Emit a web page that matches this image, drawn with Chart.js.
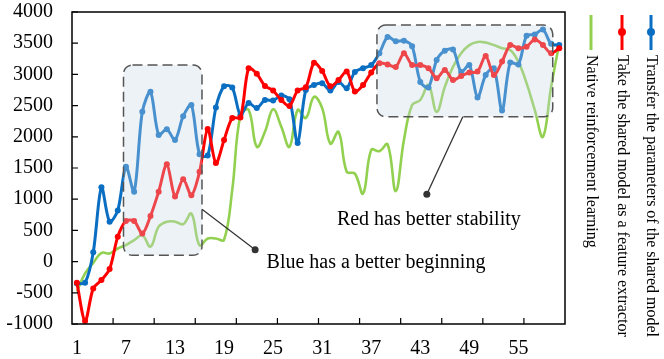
<!DOCTYPE html>
<html>
<head>
<meta charset="utf-8">
<script src="https://cdn.jsdelivr.net/npm/chart.js@4.4.0/dist/chart.umd.min.js"></script>
<style>
  html, body { margin: 0; padding: 0; background: #fff; }
  #wrap { width: 664px; height: 359px; }
</style>
</head>
<body>
<div id="wrap"><canvas id="chart" width="664" height="359"></canvas></div>
<script>
// episodes 1..60
const episodes = [];
for (let i = 1; i <= 60; i++) episodes.push(i);

const xTickLabels = [1, 7, 13, 19, 25, 31, 37, 43, 49, 55];

const transferParams = [
  -350, -340, 150, 1190, 640, 820, 1520, 1120, 2400, 2720,
  2030, 2120, 1950, 2330, 2510, 1720, 1700, 2470, 2810, 2790,
  2350, 2540, 2460, 2590, 2580, 2660, 2600, 1900, 2750, 2830,
  2860, 2740, 2880, 2780, 3040, 3100, 3150, 3340, 3600, 3530,
  3540, 3450, 2880, 2790, 3230, 3380, 3400, 3040, 3150, 2630,
  2990, 3100, 2420, 3190, 3160, 3620, 3640, 3720, 3490, 3470
];

const featureExtractor = [
  -340, -950, -430, -295, -120, 400, 650, 650, 450, 730,
  1120, 1560, 1045, 1320, 1065, 1440, 2125, 1580, 1950, 2300,
  2310, 3100, 3010, 2815, 2740, 2590, 2495, 2740, 2795, 3185,
  3055, 2810, 2910, 3045, 2725, 2830, 3030, 3180, 3160, 3120,
  3340, 3150, 3150, 3100, 2940, 3070, 2910, 2975, 3030, 3045,
  3295, 2990, 3205, 3470, 3420, 3445, 3560, 3470, 3340, 3420
];

const nativeRL = [
  -480, -190, -20, 140, 130, 210, 265, 345, 420, 240,
  560, 640, 640, 600, 770, 260, 370, 370, 350, 1150,
  2350, 2430, 1840, 2080, 2440, 2160, 1840, 2430, 2300, 2640,
  2460, 1890, 2080, 1440, 1410, 1090, 1790, 1770, 1880, 1130,
  1950, 2510, 2590, 2830, 2400, 2800, 3120, 3340, 3470, 3520,
  3510, 3470, 3420, 3390, 3200, 2860, 2430, 2000, 2800, 3500
];

const seriesNames = [
  'Transfer the parameters of the shared model',
  'Take the shared model as a feature extractor',
  'Native reinforcement learning'
];
const seriesColors = ['#0a6fc2', '#ff0000', '#92d050'];

// highlighted regions and their notes (data coordinates)
const boxes = [
  { x0: 6.7, x1: 16.3, y0: 100, y1: 3150 },
  { x0: 37.7, x1: 59.2, y0: 2320, y1: 3790 }
];
const notes = [
  { text: 'Blue has a better beginning', fx: 16.3, fy: 840, dx: 22.8, dy: 190, tx: 24.2, ty: -22 },
  { text: 'Red has better stability', fx: 48.2, fy: 2320, dx: 43.8, dy: 1080, tx: 32.8, ty: 667 }
];

const serif = "'Liberation Serif', 'Times New Roman', serif";

function roundRectPath(ctx, x, y, w, h, r) {
  ctx.beginPath();
  ctx.moveTo(x + r, y);
  ctx.lineTo(x + w - r, y);
  ctx.arcTo(x + w, y, x + w, y + r, r);
  ctx.lineTo(x + w, y + h - r);
  ctx.arcTo(x + w, y + h, x + w - r, y + h, r);
  ctx.lineTo(x + r, y + h);
  ctx.arcTo(x, y + h, x, y + h - r, r);
  ctx.lineTo(x, y + r);
  ctx.arcTo(x, y, x + r, y, r);
  ctx.closePath();
}

const overlay = {
  id: 'overlay',
  afterDatasetsDraw(chart) {
    const ctx = chart.ctx;
    const a = chart.chartArea;
    const x = chart.scales.x, y = chart.scales.y;
    ctx.save();

    // shaded dashed boxes over the lines
    boxes.forEach(function(b) {
      const l = x.getPixelForValue(b.x0), r = x.getPixelForValue(b.x1);
      const t = y.getPixelForValue(b.y1), btm = y.getPixelForValue(b.y0);
      roundRectPath(ctx, l, t, r - l, btm - t, 9);
      ctx.fillStyle = 'rgba(200, 215, 232, 0.33)';
      ctx.fill();
      ctx.setLineDash([10, 5]);
      ctx.strokeStyle = '#555';
      ctx.lineWidth = 1.5;
      ctx.stroke();
    });
    ctx.setLineDash([]);

    // connectors + labels
    notes.forEach(function(n) {
      const fx = x.getPixelForValue(n.fx), fy = y.getPixelForValue(n.fy);
      const dx = x.getPixelForValue(n.dx), dy = y.getPixelForValue(n.dy);
      ctx.strokeStyle = '#333';
      ctx.lineWidth = 1.3;
      ctx.beginPath();
      ctx.moveTo(fx, fy);
      ctx.lineTo(dx, dy);
      ctx.stroke();
      ctx.fillStyle = '#333';
      ctx.beginPath();
      ctx.arc(dx, dy, 3.5, 0, Math.PI * 2);
      ctx.fill();
      ctx.fillStyle = '#000';
      ctx.font = '20px ' + serif;
      ctx.textAlign = 'left';
      ctx.textBaseline = 'middle';
      ctx.fillText(n.text, x.getPixelForValue(n.tx), y.getPixelForValue(n.ty));
    });

    // frame with inward ticks
    ctx.strokeStyle = '#000';
    ctx.lineWidth = 1.5;
    ctx.strokeRect(a.left, a.top, a.right - a.left, a.bottom - a.top);
    ctx.lineWidth = 1.2;
    ctx.beginPath();
    y.ticks.forEach(function(t) {
      const py = y.getPixelForValue(t.value);
      ctx.moveTo(a.left, py);
      ctx.lineTo(a.left + 6, py);
    });
    for (let k = 1; k < 12; k++) {
      const px = a.left + (a.right - a.left) * k / 12;
      ctx.moveTo(px, a.bottom);
      ctx.lineTo(px, a.bottom - 6);
    }
    ctx.stroke();

    // vertical legend on the right
    const offsets = [86, 57, 26];
    seriesNames.forEach(function(name, i) {
      const cx = a.right + offsets[i];
      ctx.strokeStyle = seriesColors[i];
      ctx.lineWidth = 3;
      ctx.beginPath();
      ctx.moveTo(cx, 15);
      ctx.lineTo(cx, 50);
      ctx.stroke();
      if (i < 2) {
        ctx.fillStyle = seriesColors[i];
        ctx.beginPath();
        ctx.arc(cx, 32, 4, 0, Math.PI * 2);
        ctx.fill();
      }
      ctx.save();
      ctx.translate(cx, 55);
      ctx.rotate(Math.PI / 2);
      ctx.fillStyle = '#000';
      ctx.font = '16px ' + serif;
      ctx.textAlign = 'left';
      ctx.textBaseline = 'middle';
      ctx.fillText(name, 0, 0);
      ctx.restore();
    });

    ctx.restore();
  }
};

const ctx = document.getElementById('chart').getContext('2d');
const chart = new Chart(ctx, {
  type: 'line',
  data: {
    datasets: [
      {
        label: seriesNames[2],
        data: episodes.map((e, i) => ({ x: e, y: nativeRL[i] })),
        borderColor: seriesColors[2],
        borderWidth: 2.6,
        pointRadius: 0,
        tension: 0.4,
        order: 3
      },
      {
        label: seriesNames[0],
        data: episodes.map((e, i) => ({ x: e, y: transferParams[i] })),
        borderColor: seriesColors[0],
        backgroundColor: seriesColors[0],
        borderWidth: 3,
        pointRadius: 3,
        pointBorderWidth: 0,
        tension: 0.3,
        order: 2
      },
      {
        label: seriesNames[1],
        data: episodes.map((e, i) => ({ x: e, y: featureExtractor[i] })),
        borderColor: seriesColors[1],
        backgroundColor: seriesColors[1],
        borderWidth: 3,
        pointRadius: 3,
        pointBorderWidth: 0,
        tension: 0.3,
        order: 1
      }
    ]
  },
  options: {
    responsive: false,
    animation: false,
    layout: { padding: { left: 0, right: 99, top: 0, bottom: 0 } },
    plugins: {
      legend: { display: false },
      tooltip: { enabled: false }
    },
    scales: {
      x: {
        type: 'linear',
        min: 0.4,
        max: 60.7,
        grid: { display: false, drawTicks: false },
        border: { display: false },
        afterBuildTicks: function(scale) {
          scale.ticks = xTickLabels.map(v => ({ value: v }));
        },
        afterFit: function(scale) { scale.height = 35; },
        ticks: {
          autoSkip: false,
          maxRotation: 0,
          padding: 13,
          color: '#000',
          font: { family: serif, size: 20 }
        }
      },
      y: {
        min: -1000,
        max: 4000,
        grid: { display: false, drawTicks: false },
        border: { display: false },
        afterFit: function(scale) {
          scale.width = 72;
          // label padding also gets added above/below the axis; keep it tight
          scale.paddingTop = 12;
          scale.paddingBottom = 12;
        },
        ticks: {
          stepSize: 500,
          padding: 19,
          color: '#000',
          font: { family: serif, size: 20 },
          callback: function(value) { return String(value); }
        }
      }
    }
  },
  plugins: [overlay]
});
</script>
</body>
</html>
